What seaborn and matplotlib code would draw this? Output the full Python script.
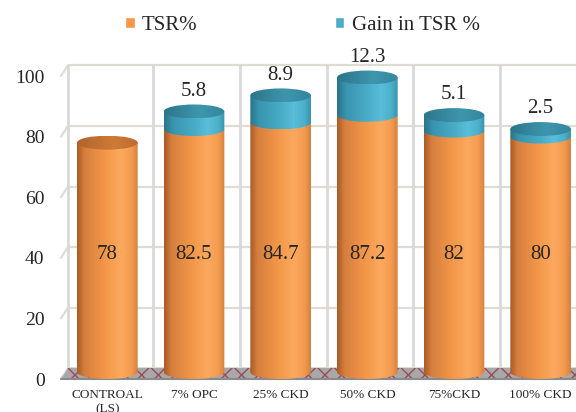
import numpy as np
import pandas as pd
import matplotlib
matplotlib.use("Agg")
import matplotlib.pyplot as plt
import seaborn as sns
from matplotlib.colors import LinearSegmentedColormap
from matplotlib.patches import PathPatch, Ellipse, Polygon, Patch
from matplotlib.path import Path

# --- data -------------------------------------------------------------
mixes = ["CONTROAL\n(LS)", "7% OPC", "25% CKD", "50% CKD", "75%CKD", "100% CKD"]
tsr = [78, 82.5, 84.7, 87.2, 82, 80]
gain = [0, 5.8, 8.9, 12.3, 5.1, 2.5]
y_ticks = [0, 20, 40, 60, 80, 100]
series_names = ["TSR%", "Gain in TSR %"]

df = pd.DataFrame({"mix": mixes, "tsr": tsr, "gain": gain})
df["total"] = df["tsr"] + df["gain"]

ORANGE = "#F79646"
BLUE = "#4BACC6"

sns.set_style("white")
plt.rcParams["font.family"] = ["Liberation Serif", "DejaVu Serif"]

YMAX = 112  # head-room above 100 for the caps of the tallest cylinders
fig = plt.figure(figsize=(5.76, 4.12), dpi=100)
ax = fig.add_axes([64 / 576, 33 / 412, 520 / 576, 3.03 * YMAX / 412])

# stacked bars: full height (TSR + gain) first, TSR on top of it
sns.barplot(data=df, x="mix", y="total", color=BLUE, width=0.7,
            errorbar=None, ax=ax, zorder=3)
sns.barplot(data=df, x="mix", y="tsr", color=ORANGE, width=0.7,
            errorbar=None, ax=ax, zorder=4)

n = len(mixes)
total_bars = list(ax.patches[:n])
tsr_bars = list(ax.patches[n:2 * n])

ax.set_xlim(-0.5, 5.5)
ax.set_ylim(0, YMAX)
ax.set_autoscale_on(False)

# --- cylinder look ----------------------------------------------------
EH = 2.3  # half height of the elliptic caps (data units)

body_cm = {
    "o": LinearSegmentedColormap.from_list("ob", [(0, "#A85A24"), (0.12, "#D57E3E"),
                                                  (0.45, "#F29648"), (0.72, "#FCA95F"),
                                                  (0.9, "#F39A50"), (1, "#D4803E")]),
    "b": LinearSegmentedColormap.from_list("bb", [(0, "#2A7489"), (0.15, "#3995AF"),
                                                  (0.5, "#49ACC7"), (0.72, "#59BED9"),
                                                  (0.9, "#4AAFC9"), (1, "#3A92AB")]),
}
cap_cm = {
    "o": LinearSegmentedColormap.from_list("oc", [(0, "#B0632B"), (0.6, "#CE7B37"), (1, "#BD6D30")]),
    "b": LinearSegmentedColormap.from_list("bc", [(0, "#2C7589"), (0.6, "#3E96AE"), (1, "#33869D")]),
}
grad = np.linspace(0, 1, 256)[None, :]


def body_path(x0, w, ybot, ytop):
    t = np.linspace(0, np.pi, 60)
    xc = x0 + w / 2
    arc = list(zip(xc - (w / 2) * np.cos(t), ybot - EH * np.sin(t)))
    verts = [(x0, ytop)] + arc + [(x0 + w, ytop), (x0, ytop)]
    codes = [Path.MOVETO] + [Path.LINETO] * (len(verts) - 2) + [Path.CLOSEPOLY]
    return Path(verts, codes)


def shade(clip_patch, x0, w, y0, y1, cmap, z):
    clip_patch.set_facecolor("none")
    clip_patch.set_edgecolor("none")
    ax.add_patch(clip_patch)
    im = ax.imshow(grad, extent=[x0, x0 + w, y0, y1], aspect="auto", cmap=cmap,
                   origin="lower", zorder=z, interpolation="bilinear")
    im.set_clip_path(clip_patch)


for pt, po, g in zip(total_bars, tsr_bars, gain):
    pt.set_visible(False)
    po.set_visible(False)
    x0, w = po.get_x(), po.get_width()
    top_o, top_all = po.get_height(), pt.get_height()
    # orange column
    shade(PathPatch(body_path(x0, w, EH, top_o), transform=ax.transData),
          x0, w, 0, top_o, body_cm["o"], 4)
    if g > 0:
        shade(PathPatch(body_path(x0, w, top_o, top_all), transform=ax.transData),
              x0, w, top_o - EH, top_all, body_cm["b"], 5)
        cap, key = top_all, "b"
    else:
        cap, key = top_o, "o"
    shade(Ellipse((x0 + w / 2, cap), w, 2 * EH, transform=ax.transData),
          x0, w, cap - EH, cap + EH, cap_cm[key], 6)

# --- value labels -----------------------------------------------------
label_y = np.mean(tsr) / 2
for po, v in zip(tsr_bars, tsr):
    ax.text(po.get_x() + po.get_width() / 2, label_y, f"{v:g}", ha="center",
            va="center", fontsize=15, zorder=10)
for pt, g in zip(total_bars, gain):
    if g > 0:
        ax.text(pt.get_x() + pt.get_width() / 2, pt.get_height() + 6.7, f"{g:g}",
                ha="center", va="center", fontsize=15, zorder=10, clip_on=False)

# --- 3-D walls, gridlines and floor ------------------------------------
DY = 3.5
back_left, front_left = -0.455, -0.535
grid_c = "#DFDDD3"
for t in y_ticks:
    ax.plot([back_left, 6.0], [t + DY, t + DY], color=grid_c, lw=1.6,
            zorder=0.5, clip_on=False, solid_capstyle="butt")
    ax.plot([front_left, back_left], [t, t + DY], color=grid_c, lw=1.6,
            zorder=0.5, clip_on=False)
for k in range(n):
    xv = back_left if k == 0 else k - 0.5 + 0.03
    ax.plot([xv, xv], [DY, 100 + DY], color="#D9D9D9", lw=2.0,
            zorder=0.5, clip_on=False)

floor = Polygon([(front_left, 0), (6.0, 0), (6.0, DY), (back_left, DY)],
                closed=True, facecolor="#A8A8A8", edgecolor="#9A4A5A",
                hatch="xx", lw=0, zorder=1, clip_on=False)
ax.add_patch(floor)
ax.plot([front_left, 6.0], [0, 0], color="#8A8A8A", lw=1.5, zorder=1.5, clip_on=False)

# --- axes cosmetics ---------------------------------------------------
sns.despine(ax=ax, left=True, bottom=True)
ax.set_xlabel("")
ax.set_ylabel("")
ax.set_yticks(y_ticks)
ax.tick_params(axis="y", length=0, labelsize=14, pad=14)
ax.tick_params(axis="x", length=0, labelsize=9.5, pad=7)
for lab in ax.get_xticklabels():
    lab.set_linespacing(1.25)
ax.grid(False)

handles = [Patch(facecolor=ORANGE), Patch(facecolor=BLUE)]
fig.legend(handles, series_names, loc="center", bbox_to_anchor=(0.525, 0.939),
           ncol=2, frameon=False, fontsize=15, handlelength=0.45, handleheight=0.45,
           handletextpad=0.35, columnspacing=6.6)

fig.savefig("out.png", dpi=100)
